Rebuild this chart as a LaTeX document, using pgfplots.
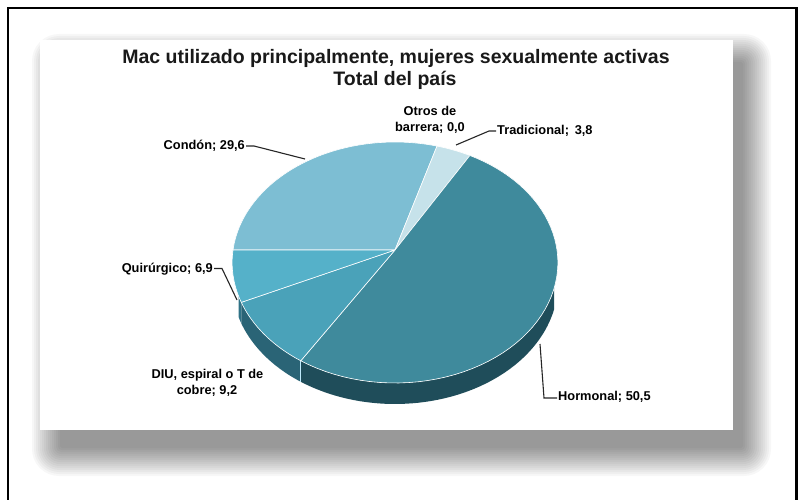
\documentclass[border=0pt]{standalone}
\usepackage{pgfplots}
\pgfplotsset{compat=1.18}
\usepackage{pgfplotstable}
\usepackage{fontspec}
\setmainfont{Liberation Sans}

\definecolor{cCondon}{HTML}{7DBED3}
\definecolor{cTrad}{HTML}{C6E2EA}
\definecolor{cHorm}{HTML}{3F8A9C}
\definecolor{cDIU}{HTML}{4AA2B9}
\definecolor{cQuir}{HTML}{55B1C9}
\definecolor{sHorm}{HTML}{1F4D5A}
\definecolor{sDIU}{HTML}{2A6476}
\definecolor{sQuir}{HTML}{2F7286}

\pgfplotstableread{
metodo valor
Condon 29.6
Otros 0.0
Tradicional 3.8
Hormonal 50.5
DIU 9.2
Quirurgico 6.9
}\piedata

\newcommand\wedgetop[3]{%
  \addplot[fill=#1, draw=white, line width=0.6pt, line join=round, domain=0:3, samples=181]
    ({PX(WR(x),WT(x,#2,#3))},{PY(WR(x),WT(x,#2,#3))});
}
\newcommand\wedgeside[3]{%
  \addplot[fill=#1, draw=none, domain=0:4, samples=201]
    ({PX(1,#2+(#3-#2)*SU(x))},{PY(1,#2+(#3-#2)*SU(x))+21*SV(x)});
}

\begin{document}%
\begin{tikzpicture}
\pgfplotstablegetelem{0}{valor}\of\piedata\let\vA\pgfplotsretval
\pgfplotstablegetelem{1}{valor}\of\piedata\let\vB\pgfplotsretval
\pgfplotstablegetelem{2}{valor}\of\piedata\let\vC\pgfplotsretval
\pgfplotstablegetelem{3}{valor}\of\piedata\let\vD\pgfplotsretval
\pgfplotstablegetelem{4}{valor}\of\piedata\let\vE\pgfplotsretval
\pgfplotstablegetelem{5}{valor}\of\piedata\let\vF\pgfplotsretval
\pgfmathsetmacro\tA{180}
\pgfmathsetmacro\tB{\tA-3.6*\vA}
\pgfmathsetmacro\tC{\tB-3.6*\vB}
\pgfmathsetmacro\tD{\tC-3.6*\vC}
\pgfmathsetmacro\tE{\tD-3.6*\vD}
\pgfmathsetmacro\tF{\tE-3.6*\vE}
\pgfmathsetmacro\tG{\tF-3.6*\vF}
\useasboundingbox (0,0) rectangle (798pt,499pt);
\clip (0,0) rectangle (798pt,499pt);
\begin{scope}[x=1pt,y=-1pt,shift={(0,499pt)}]
  \fill[white] (0,0) rectangle (798,499);
  \foreach \i [evaluate=\i as \rc using \i*1.8] in {1,...,15}{
    \fill[black,opacity=0.032,rounded corners=\rc pt] ({62-2*\i},{64-2*\i}) rectangle ({741+2*\i},{446+2*\i});
  }
  \fill[white] (40,40) rectangle (733,430);
  \draw[black,line width=2.2pt] (8,530) -- (8,8) -- (796.5,8) -- (796.5,530);
\end{scope}
\begin{pgfinterruptboundingbox}
\begin{axis}[at={(0pt,0pt)}, anchor=south west, scale only axis,
  width=798pt, height=499pt, xmin=0, xmax=798, ymin=0, ymax=499,
  y dir=reverse, hide axis, clip=false,
  declare function={
    PW(\r,\t)=1/(1+0.1037*\r*sin(\t));
    PX(\r,\t)=395+162*\r*cos(\t)*PW(\r,\t);
    PY(\r,\t)=250-119.2*\r*sin(\t)*PW(\r,\t);
    WR(\s)=1-max(min(\s-1,1),0)+max(\s-2,0);
    WT(\s,\a,\b)=\a+(\b-\a)*(min(\s,1)-(\s>2));
    SU(\s)=min(\s,1)-max(min(\s-2,1),0);
    SV(\s)=max(min(\s-1,1),0)-max(min(\s-3,1),0);
  }]
  % sides
  \wedgeside{sQuir}{-158}{\tF}
  \wedgeside{sDIU}{\tF}{\tE}
  \wedgeside{sHorm}{\tE}{-18}
  \addplot[draw=white!75!cyan, line width=0.6pt, domain=0:1, samples=2]
    ({PX(1,\tE)},{PY(1,\tE)+21*x});
  % tops
  \wedgetop{cCondon}{\tB}{\tA}
  \wedgetop{cTrad}{\tD}{\tC}
  \wedgetop{cHorm}{\tE}{\tD}
  \wedgetop{cDIU}{\tF}{\tE}
  \wedgetop{cQuir}{\tG}{\tF}
\end{axis}
\end{pgfinterruptboundingbox}
\begin{scope}[x=1pt,y=-1pt,shift={(0,499pt)}, font=\fontsize{12.8}{15}\selectfont\bfseries]
  \node[anchor=base, inner sep=0, font=\fontsize{19.5}{22}\selectfont\bfseries, text=black!90] at (396,64) {Mac utilizado principalmente, mujeres sexualmente activas};
  \node[anchor=base, inner sep=0, font=\fontsize{19.5}{22}\selectfont\bfseries, text=black!90] at (395,86) {Total del país};
  \node[anchor=base, inner sep=0] at (430,115.5) {Otros de};
  \node[anchor=base, inner sep=0] at (430,131.5) {barrera; 0,0};
  \node[anchor=base west, inner sep=0] at (497,135) {Tradicional;\hspace{0.45em}3,8};
  \node[anchor=base east, inner sep=0] at (245,150) {Condón; 29,6};
  \node[anchor=base east, inner sep=0] at (213,272.5) {Quirúrgico; 6,9};
  \node[anchor=base, inner sep=0] at (207.5,378) {DIU, espiral o T de};
  \node[anchor=base, inner sep=0] at (207,394) {cobre; 9,2};
  \node[anchor=base west, inner sep=0] at (558,400) {Hormonal; 50,5};
  \draw[line width=1.1pt, black!85] (496,131) -- (489,131) -- (456,145);
  \draw[line width=1.1pt, black!85] (246,146) -- (254,146) -- (305,159);
  \draw[line width=1.1pt, black!85] (214,268.5) -- (222,268.5) -- (237,300);
  \draw[line width=1.1pt, black!85] (557,398) -- (544,398) -- (540,344);
\end{scope}
\end{tikzpicture}%
\end{document}
